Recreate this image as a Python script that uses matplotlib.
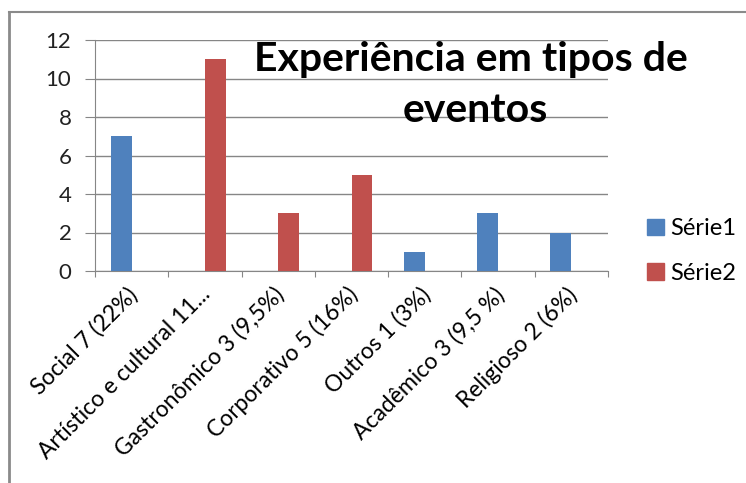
import matplotlib
matplotlib.use("Agg")
import matplotlib.pyplot as plt
import matplotlib.transforms as mtransforms
import numpy as np
from matplotlib.lines import Line2D

plt.rcParams['font.family'] = ['Lato', 'DejaVu Sans']

categories = ["Social 7 (22%)", "Artístico e cultural 11...", "Gastronômico 3 (9,5%)",
              "Corporativo 5 (16%)", "Outros 1 (3%)", "Acadêmico 3 (9,5 %)", "Religioso 2 (6%)"]
serie1 = [7, 0, 0, 0, 1, 3, 2]
serie2 = [0, 11, 3, 5, 0, 0, 0]
series_names = ["Série1", "Série2"]
yticks = [0, 2, 4, 6, 8, 10, 12]

W, H = 746, 483
fig = plt.figure(figsize=(W/100, H/100), dpi=100)
fig.patch.set_facecolor('white')

# axes: x 95..608, y 40..271 (pixels)
ax = fig.add_axes([95/W, 1-271/H, (608-95)/W, (271-40)/H])
x = np.arange(len(categories))
bw = 0.2857
c1, c2 = '#4F81BD', '#C0504D'
ax.bar(x - bw/2, serie1, bw, color=c1, label=series_names[0], zorder=3)
ax.bar(x + bw/2, serie2, bw, color=c2, label=series_names[1], zorder=3)
ax.set_xlim(-0.5, len(categories)-0.5)
ax.set_ylim(0, 12)
ax.set_yticks(yticks)
ax.yaxis.grid(True, color='#868686', linewidth=1.0, zorder=0)
ax.set_axisbelow(True)
for s in ['top', 'right']:
    ax.spines[s].set_visible(False)
ax.spines['left'].set_color('#868686')
ax.spines['bottom'].set_color('#868686')
ax.tick_params(axis='y', length=7, color='#868686', labelsize=16, pad=10, direction='out')
ax.set_xticks(np.arange(len(categories)+1) - 0.5, minor=False)
ax.set_xticklabels([])
ax.tick_params(axis='x', length=4.5, color='#868686', direction='out')
ax.set_xticks(x, minor=True)
ax.set_xticklabels(categories, minor=True, rotation=45, ha='right', rotation_mode='anchor', fontsize=16.5)
ax.tick_params(axis='x', which='minor', length=0, pad=9)
offset = mtransforms.ScaledTranslation(-5/100, 0, fig.dpi_scale_trans)
for lab in ax.get_xticklabels(minor=True):
    lab.set_transform(lab.get_transform() + offset)
for lab in ax.get_yticklabels():
    lab.set_color('#222222')

fig.text(471/W, 1-60/H, "Experiência em tipos de", fontsize=29.5, fontweight='bold', ha='center', va='center', color='black')
fig.text(475/W, 1-110/H, "eventos", fontsize=29.5, fontweight='bold', ha='center', va='center', color='black')

leg = fig.legend(handles=[plt.Rectangle((0,0),1,1,color=c1), plt.Rectangle((0,0),1,1,color=c2)],
                 labels=series_names, loc='center left', bbox_to_anchor=(647/W, 1-251/H),
                 frameon=False, fontsize=17, handlelength=0.7, handleheight=0.7,
                 handletextpad=0.3, labelspacing=1.0, borderpad=0, borderaxespad=0)

# frame
fig.add_artist(Line2D([9/W, 9/W], [0, 1-12/H], color='#8a8a8a', linewidth=2))
fig.add_artist(Line2D([9/W, 1], [1-12/H, 1-12/H], color='#8a8a8a', linewidth=1.5))

fig.savefig("out.png", dpi=100)
